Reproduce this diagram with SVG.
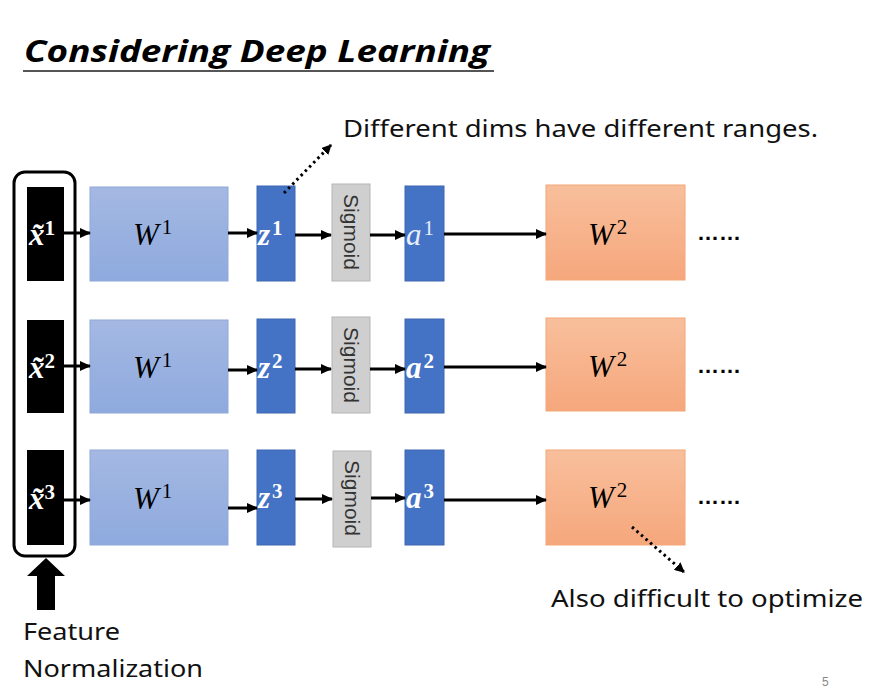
<svg xmlns="http://www.w3.org/2000/svg" width="883" height="692" viewBox="0 0 883 692">
<defs>
<linearGradient id="gB" x1="0" y1="0" x2="0" y2="1"><stop offset="0" stop-color="#a4b8e2"/><stop offset="1" stop-color="#8eaade"/></linearGradient>
<linearGradient id="gO" x1="0" y1="0" x2="0" y2="1"><stop offset="0" stop-color="#f8bf9c"/><stop offset="1" stop-color="#f6a77c"/></linearGradient>
<marker id="ah" markerWidth="11" markerHeight="10" refX="10" refY="5" orient="auto" markerUnits="userSpaceOnUse"><path d="M0,0 L11,5 L0,10 Z" fill="#000"/></marker>
<marker id="ah2" markerWidth="10" markerHeight="10" refX="9" refY="5" orient="auto" markerUnits="userSpaceOnUse"><path d="M0,0 L10,5 L0,10 Z" fill="#000"/></marker>
<style>
.xb{fill:#000}
.w1{fill:url(#gB);stroke:#8fa8d8;stroke-width:1}
.zb{fill:#4472c4;stroke:#3e66b0;stroke-width:1}
.sg{fill:#cfcfcf;stroke:#b5b5b5;stroke-width:1}
.w2{fill:url(#gO);stroke:#f4a678;stroke-width:1}
.lbl{font-family:"Liberation Serif",serif;font-style:italic;font-size:31px}
.wl{fill:#fff;font-weight:bold}
.sgt{font-family:"Liberation Sans",sans-serif;font-size:21px;fill:#333}
.txt{font-family:"Noto Sans","Liberation Sans",sans-serif;font-size:24px;fill:#111}
.con{stroke:#000;stroke-width:3;fill:none;marker-end:url(#ah)}
.dot{stroke:#000;stroke-width:3;stroke-dasharray:2.5 3.5;fill:none;marker-end:url(#ah2)}
.dots{font-family:"Liberation Sans",sans-serif;font-size:22px;font-weight:bold;fill:#000}
</style>
</defs>
<rect width="883" height="692" fill="#fff"/>
<g id="title">
<text x="24" y="62" font-family="'Open Sans','Liberation Sans',sans-serif" font-weight="bold" font-style="italic" font-size="31" textLength="466" lengthAdjust="spacingAndGlyphs">Considering Deep Learning</text>
<line x1="23" y1="71" x2="494" y2="71" stroke="#555" stroke-width="2"/>
</g>
<g id="norm-bracket"><rect x="14" y="172" width="61" height="384" rx="11" fill="none" stroke="#000" stroke-width="3"/></g>
<g id="row1">
<g id="x1"><rect class="xb" x="27" y="187" width="37" height="94"/><text class="lbl wl" x="29" y="245" font-size="29">x̃<tspan dy="-10" font-size="21" font-style="normal">1</tspan></text></g>
<g id="W1a"><rect class="w1" x="90" y="187" width="138" height="94"/><text class="lbl" x="133" y="245">W<tspan dy="-11" font-size="21" font-style="normal" dx="3">1</tspan></text></g>
<g id="z1"><rect class="zb" x="257" y="186" width="38" height="95"/><text class="lbl wl" x="258" y="245" font-size="29">z<tspan dy="-10" font-size="21" font-style="normal" dx="2">1</tspan></text></g>
<g id="s1"><rect class="sg" x="332" y="184" width="38" height="97"/><text class="sgt" transform="translate(344,232) rotate(90)" text-anchor="middle">Sigmoid</text></g>
<g id="a1"><rect class="zb" x="405" y="186" width="39" height="95"/><text class="lbl" fill="#e8eefb" x="406" y="245" font-size="29">a<tspan dy="-10" font-size="21" font-style="normal" dx="2">1</tspan></text></g>
<g id="W2a"><rect class="w2" x="546" y="185" width="139" height="95"/><text class="lbl" x="588" y="245">W<tspan dy="-11" font-size="21" font-style="normal" dx="3">2</tspan></text></g>
<text class="dots" x="697" y="240">……</text>
</g>
<g id="row2">
<g id="x2"><rect class="xb" x="27" y="320" width="37" height="93"/><text class="lbl wl" x="29" y="378" font-size="29">x̃<tspan dy="-10" font-size="21" font-style="normal">2</tspan></text></g>
<g id="W1b"><rect class="w1" x="90" y="320" width="138" height="93"/><text class="lbl" x="133" y="378">W<tspan dy="-11" font-size="21" font-style="normal" dx="3">1</tspan></text></g>
<g id="z2"><rect class="zb" x="257" y="319" width="38" height="94"/><text class="lbl wl" x="258" y="378" font-size="29">z<tspan dy="-10" font-size="21" font-style="normal" dx="2">2</tspan></text></g>
<g id="s2"><rect class="sg" x="332" y="317" width="38" height="96"/><text class="sgt" transform="translate(344,365) rotate(90)" text-anchor="middle">Sigmoid</text></g>
<g id="a2"><rect class="zb" x="405" y="319" width="39" height="94"/><text class="lbl wl" x="406" y="378" font-size="29">a<tspan dy="-10" font-size="21" font-style="normal" dx="2">2</tspan></text></g>
<g id="W2b"><rect class="w2" x="546" y="318" width="139" height="93"/><text class="lbl" x="588" y="377">W<tspan dy="-11" font-size="21" font-style="normal" dx="3">2</tspan></text></g>
<text class="dots" x="697" y="373">……</text>
</g>
<g id="row3">
<g id="x3"><rect class="xb" x="27" y="450" width="37" height="95"/><text class="lbl wl" x="29" y="509" font-size="29">x̃<tspan dy="-10" font-size="21" font-style="normal">3</tspan></text></g>
<g id="W1c"><rect class="w1" x="90" y="450" width="138" height="95"/><text class="lbl" x="133" y="509">W<tspan dy="-11" font-size="21" font-style="normal" dx="3">1</tspan></text></g>
<g id="z3"><rect class="zb" x="257" y="450" width="38" height="95"/><text class="lbl wl" x="258" y="508" font-size="29">z<tspan dy="-10" font-size="21" font-style="normal" dx="2">3</tspan></text></g>
<g id="s3"><rect class="sg" x="333" y="451" width="38" height="96"/><text class="sgt" transform="translate(345,498) rotate(90)" text-anchor="middle">Sigmoid</text></g>
<g id="a3"><rect class="zb" x="405" y="450" width="39" height="95"/><text class="lbl wl" x="406" y="508" font-size="29">a<tspan dy="-10" font-size="21" font-style="normal" dx="2">3</tspan></text></g>
<g id="W2c"><rect class="w2" x="546" y="450" width="139" height="95"/><text class="lbl" x="588" y="508">W<tspan dy="-11" font-size="21" font-style="normal" dx="3">2</tspan></text></g>
<text class="dots" x="697" y="504">……</text>
</g>
<g id="connectors">
<line class="con" x1="64" y1="233" x2="90" y2="233"/>
<line class="con" x1="228" y1="233" x2="257" y2="233"/>
<line class="con" x1="295" y1="235" x2="331" y2="235"/>
<line class="con" x1="370" y1="235" x2="405" y2="235"/>
<line class="con" x1="444" y1="234" x2="546" y2="234"/>
<line class="con" x1="64" y1="366" x2="90" y2="366"/>
<line class="con" x1="228" y1="370" x2="257" y2="370"/>
<line class="con" x1="295" y1="369" x2="331" y2="369"/>
<line class="con" x1="370" y1="369" x2="405" y2="369"/>
<line class="con" x1="444" y1="367" x2="546" y2="367"/>
<line class="con" x1="64" y1="500" x2="90" y2="500"/>
<line class="con" x1="228" y1="508" x2="257" y2="508"/>
<line class="con" x1="295" y1="499" x2="332" y2="499"/>
<line class="con" x1="371" y1="498" x2="405" y2="498"/>
<line class="con" x1="444" y1="500" x2="546" y2="500"/>
<path class="dot" d="M284,193 L331,145"/>
<path class="dot" d="M632,527 L684,572"/>
<path d="M37,610 L37,576 L27,576 L46,558 L65,576 L55,576 L55,610 Z" fill="#000"/>
</g>
<g id="annotations">
<text class="txt" x="343" y="137" textLength="475" lengthAdjust="spacingAndGlyphs">Different dims have different ranges.</text>
<text class="txt" x="551" y="607" textLength="312" lengthAdjust="spacingAndGlyphs">Also difficult to optimize</text>
<text class="txt" x="23" y="640" textLength="97" lengthAdjust="spacingAndGlyphs">Feature</text>
<text class="txt" x="23" y="677" textLength="180" lengthAdjust="spacingAndGlyphs">Normalization</text>
<text x="822" y="686" font-family="'Liberation Sans',sans-serif" font-size="12" fill="#888">5</text>
</g>
</svg>
